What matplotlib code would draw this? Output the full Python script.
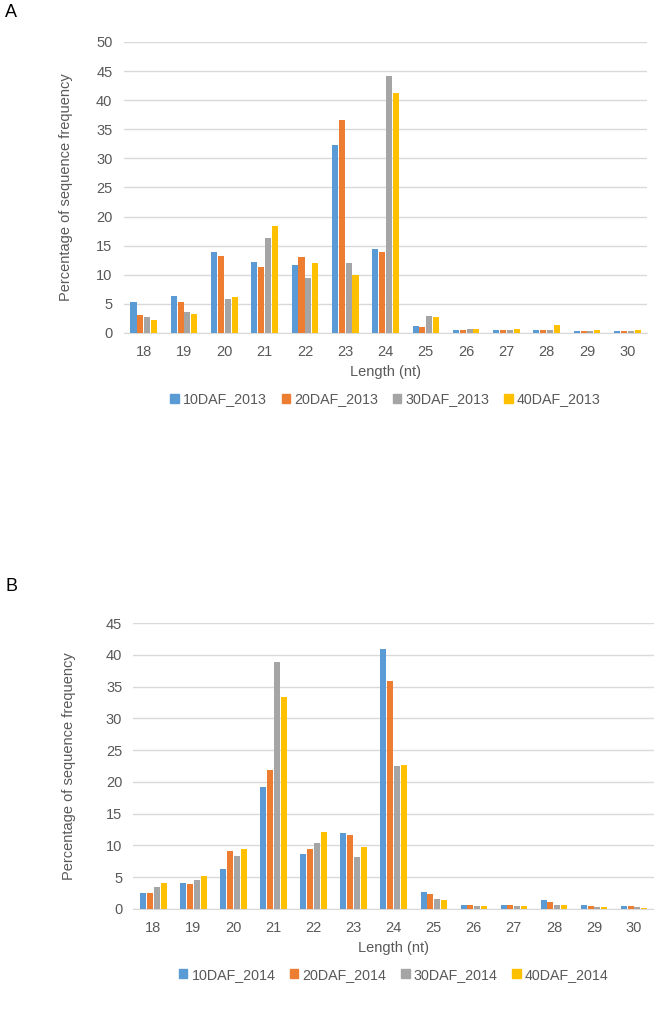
import numpy as np
import matplotlib.pyplot as plt
from matplotlib.patches import Patch

plt.rcParams['font.family'] = ['Liberation Sans', 'DejaVu Sans']

# Datos
longitudes = ['18', '19', '20', '21', '22', '23', '24', '25', '26', '27', '28', '29', '30']

series_2013 = ['10DAF_2013', '20DAF_2013', '30DAF_2013', '40DAF_2013']
daf10_2013 = [5.4, 6.4, 14.0, 12.2, 11.6, 32.3, 14.4, 1.2, 0.5, 0.6, 0.5, 0.3, 0.4]
daf20_2013 = [3.1, 5.3, 13.2, 11.3, 13.1, 36.6, 14.0, 1.1, 0.5, 0.6, 0.5, 0.3, 0.3]
daf30_2013 = [2.8, 3.6, 5.9, 16.4, 9.4, 12.1, 44.2, 2.9, 0.7, 0.5, 0.6, 0.3, 0.3]
daf40_2013 = [2.3, 3.3, 6.1, 18.3, 12.1, 10.0, 41.3, 2.8, 0.7, 0.7, 1.3, 0.6, 0.5]

series_2014 = ['10DAF_2014', '20DAF_2014', '30DAF_2014', '40DAF_2014']
daf10_2014 = [2.5, 4.1, 6.3, 19.2, 8.6, 11.9, 40.9, 2.6, 0.7, 0.7, 1.4, 0.6, 0.5]
daf20_2014 = [2.5, 3.9, 9.1, 21.9, 9.5, 11.6, 35.9, 2.4, 0.7, 0.7, 1.1, 0.5, 0.4]
daf30_2014 = [3.5, 4.5, 8.4, 38.8, 10.3, 8.2, 22.5, 1.6, 0.5, 0.4, 0.6, 0.3, 0.3]
daf40_2014 = [4.1, 5.2, 9.5, 33.3, 12.1, 9.8, 22.7, 1.4, 0.4, 0.5, 0.6, 0.3, 0.1]

colores = ['#5B9BD5', '#ED7D31', '#A5A5A5', '#FFC000']
gris_texto = '#595959'


def dibujar_panel(ax, valores, nombres, ymax, ylab_x):
    x = np.arange(len(longitudes))
    paso = 0.17
    for i, (v, nombre) in enumerate(zip(valores, nombres)):
        ax.bar(x + (i - 1.5) * paso, v, width=0.15, color=colores[i], label=nombre, zorder=3)
    ax.set_xlim(-0.5, len(longitudes) - 0.5)
    ax.set_ylim(0, ymax)
    ax.set_yticks(np.arange(0, ymax + 1, 5))
    ax.set_xticks(x)
    ax.set_xticklabels(longitudes)
    ax.yaxis.grid(True, color='#D9D9D9', linewidth=1, zorder=0)
    for lado in ['top', 'right', 'left']:
        ax.spines[lado].set_visible(False)
    ax.spines['bottom'].set_color('#D9D9D9')
    ax.tick_params(axis='both', length=0, labelsize=10.5, colors=gris_texto)
    ax.tick_params(axis='y', pad=8)
    ax.tick_params(axis='x', pad=9)
    ax.set_xlabel('Length (nt)', fontsize=10.5, color=gris_texto, labelpad=4)
    ax.set_ylabel('Percentage of sequence frequency', fontsize=10.5, color=gris_texto)
    ax.yaxis.set_label_coords(ylab_x, 0.5)
    handles = [Patch(color=colores[i], label=nombres[i]) for i in range(4)]
    leg = ax.legend(handles=handles, loc='upper center', bbox_to_anchor=(0.5, -0.16), ncol=4,
                    frameon=False, fontsize=10.3, handlelength=0.6, handleheight=0.6,
                    handletextpad=0.3, columnspacing=1.0)
    for t in leg.get_texts():
        t.set_color(gris_texto)


fig = plt.figure(figsize=(6.54, 10.14), dpi=100)
ax1 = fig.add_axes([0.189, 0.6716, 0.801, 0.2870])
ax2 = fig.add_axes([0.204, 0.1036, 0.796, 0.2820])

dibujar_panel(ax1, [daf10_2013, daf20_2013, daf30_2013, daf40_2013], series_2013, 50, -0.097)
dibujar_panel(ax2, [daf10_2014, daf20_2014, daf30_2014, daf40_2014], series_2014, 45, -0.11)

fig.text(0.008, 0.996, 'A', fontsize=13, va='top', ha='left')
fig.text(0.008, 0.430, 'B', fontsize=13, va='top', ha='left')

fig.savefig('out.png', dpi=100)
